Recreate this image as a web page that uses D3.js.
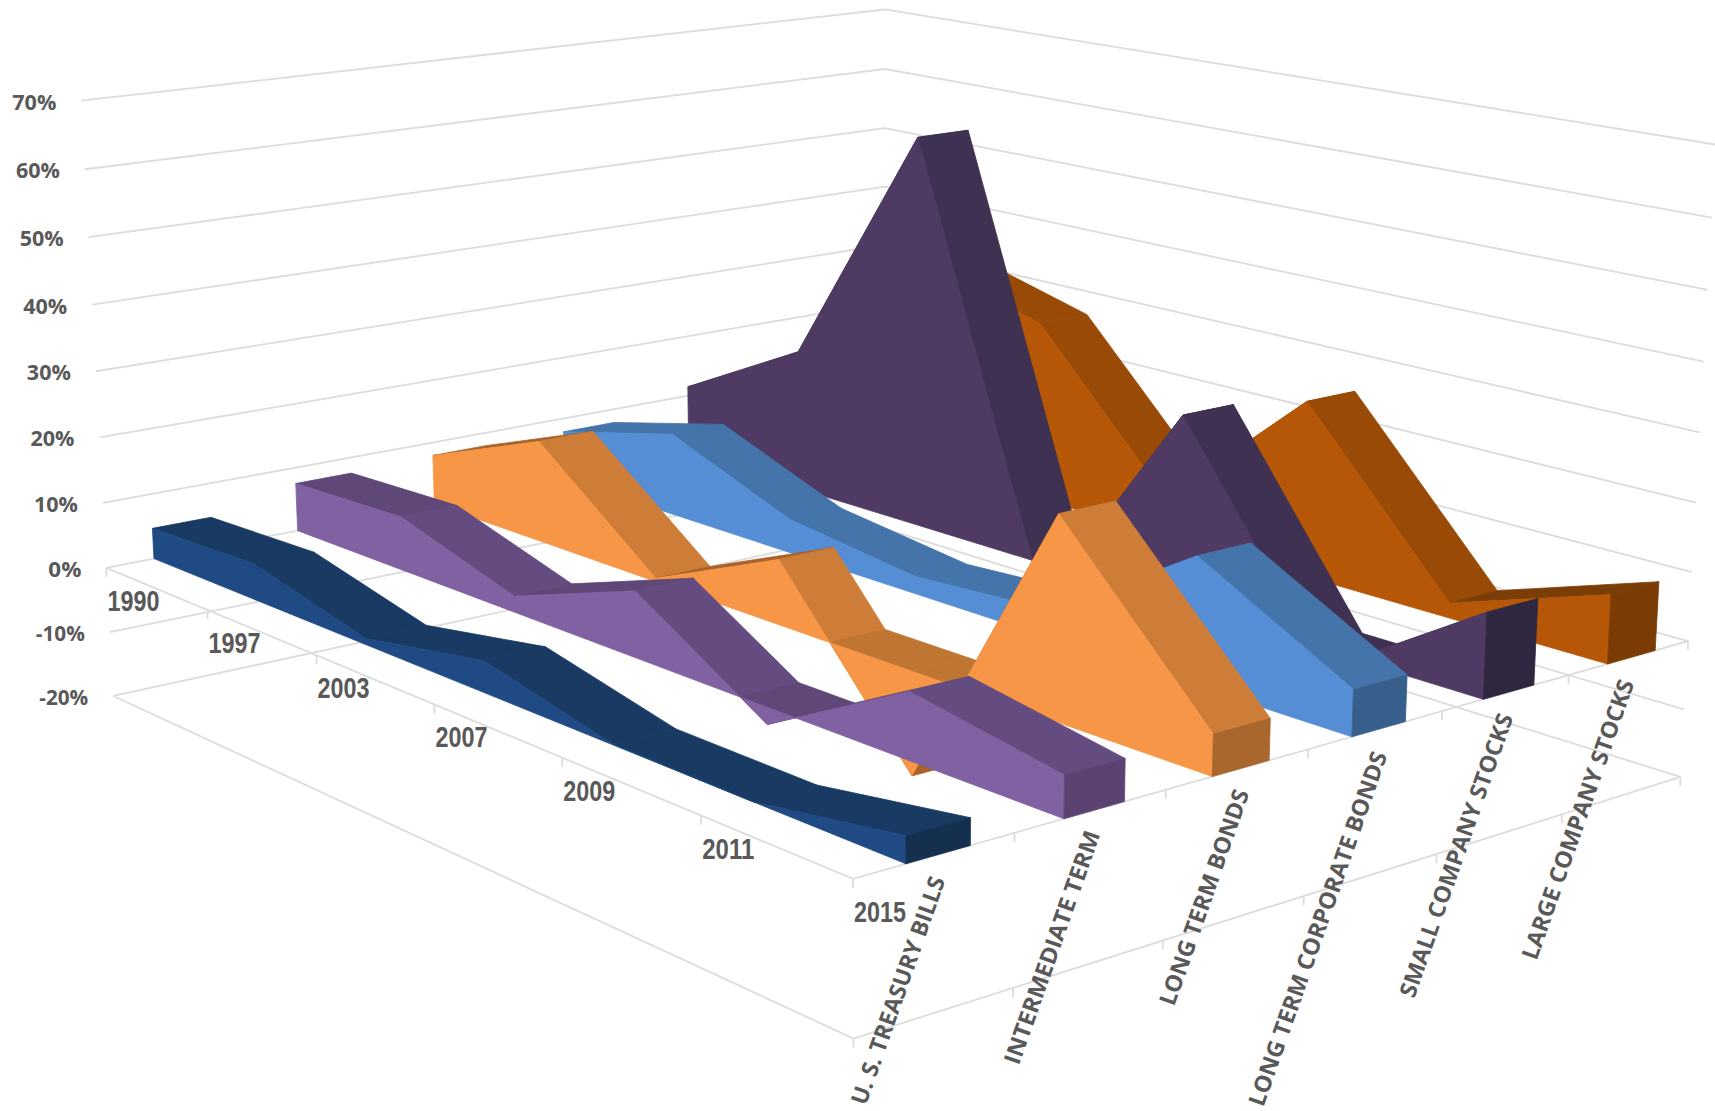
<!DOCTYPE html>
<html><head><meta charset="utf-8">
<script src="https://cdnjs.cloudflare.com/ajax/libs/d3/7.8.5/d3.min.js"></script>
<style>html,body{margin:0;padding:0;background:#fff;overflow:hidden}</style></head>
<body><svg id="c" width="1715" height="1111"></svg>
<script>
const years=["1990","1997","2003","2007","2009","2011","2015"];
const seriesNames=["U. S. TREASURY BILLS","INTERMEDIATE TERM","LONG TERM BONDS","LONG TERM CORPORATE BONDS","SMALL COMPANY STOCKS","LARGE COMPANY STOCKS"];
const treasuryBills=[4.7,5.4,0.9,4.5,0.1,0.0,3.5];
const intermediateTerm=[7.5,8.2,2.4,9.6,-2.4,9.2,5.6];
const longTermBonds=[7.9,15.7,0.5,9.6,-15,28.2,5.6];
const corporateBonds=[7.8,12.9,5.2,2.6,4,18.1,6.4];
const smallStocks=[11.5,22.4,60.5,-5.5,28.2,-2.7,12.1];
const largeStocks=[12,34,28.4,6,26.4,2.2,9.9];
const valueTicks=[-20,-10,0,10,20,30,40,50,60,70];
const allValues=[treasuryBills,intermediateTerm,longTermBonds,corporateBonds,smallStocks,largeStocks];
const palette=[
 {front:"#1f4a84",top:"#183a63",rise:"#183a63",plate:"#183a63",cap:"#15304f"},
 {front:"#8061a1",top:"#644c80",rise:"#5f4878",plate:"#5f4878",cap:"#5b4272"},
 {front:"#f79646",top:"#ce7d39",rise:"#a8622a",plate:"#bf7633",cap:"#a9662d"},
 {front:"#558ed5",top:"#4474aa",rise:"#4474aa",plate:"#4474aa",cap:"#375f8c"},
 {front:"#4e3a62",top:"#3f3151",rise:"#3f3151",plate:"#3f3151",cap:"#2f2640"},
 {front:"#b65708",top:"#994a06",rise:"#7a3d05",plate:"#994a06",cap:"#7a3c04"}];
const labelEnds=[[937,877,240],[1092,831,246],[1241,790,227],[1379,752,374],[1505,714,299],[1626,680,295]];

const tScale=d3.scalePoint().domain(years).range([0,1]);
const sScale=d3.scaleBand().domain(seriesNames).range([0,1]);
const zScale=d3.scaleLinear().domain([-20,70]).range([0,1]);

// camera calibration: [t,s,value,screenX,screenY]
const calib=[
[0,0,70,81,100.7],[0,0,60,85,168.6],[0,0,50,87.8,236.8],[0,0,40,93.3,304],[0,0,30,96.5,371.4],[0,0,20,99.8,437],[0,0,10,103,503],[0,0,0,105.9,567],[0,0,-10,109.7,632.5],[0,0,-20,113.5,696.4],
[0,1,70,885,10.7],[0,1,60,885,69.6],[0,1,50,885,127.9],[0,1,40,885,186.8],[0,1,-20,885,527],
[1,1,70,1715,144],[1,1,60,1710.7,216.8],[1,1,50,1708,290],[1,1,40,1704,361],[1,1,30,1701,432],[1,1,20,1697,502.5],[1,1,10,1694,572],[1,1,0,1686,641],[1,1,-10,1684,709],[1,1,-20,1680.6,776.8],
[1,0,-20,855,1036],[1,0,0,855,877],
[1/6,0,0,207,612.5],[2/6,0,0,315,653.6],[3/6,0,0,434,705],[4/6,0,0,562,759],[5/6,0,0,702,816],
[1,1/6,0,1014,834],[1,2/6,0,1165,791],[1,3/6,0,1307.5,750],[1,4/6,0,1441,712],[1,5/6,0,1567,677]];
function solve(A,b){const n=b.length;for(let i=0;i<n;i++){let p=i;for(let r=i+1;r<n;r++)if(Math.abs(A[r][i])>Math.abs(A[p][i]))p=r;
 [A[i],A[p]]=[A[p],A[i]];[b[i],b[p]]=[b[p],b[i]];
 for(let r=i+1;r<n;r++){const f=A[r][i]/A[i][i];for(let c=i;c<n;c++)A[r][c]-=f*A[i][c];b[r]-=f*b[i];}}
 const x=Array(n).fill(0);for(let i=n-1;i>=0;i--){let v=b[i];for(let c=i+1;c<n;c++)v-=A[i][c]*x[c];x[i]=v/A[i][i];}return x;}
const rows=[],rhs=[];
calib.forEach(([t,s,v,X,Y])=>{const z=zScale(v),x=X/1000,y=Y/1000;
 rows.push([t,s,z,1,0,0,0,0,-x*t,-x*s,-x*z]);rhs.push(x);
 rows.push([0,0,0,0,t,s,z,1,-y*t,-y*s,-y*z]);rhs.push(y);});
const ATA=d3.range(11).map(i=>d3.range(11).map(j=>d3.sum(rows,r=>r[i]*r[j])));
const ATb=d3.range(11).map(i=>d3.sum(rows,(r,k)=>r[i]*rhs[k]));
const m=solve(ATA,ATb);
function P(t,s,v){const z=zScale(v),w=m[8]*t+m[9]*s+m[10]*z+1;
 return [1000*(m[0]*t+m[1]*s+m[2]*z+m[3])/w,1000*(m[4]*t+m[5]*s+m[6]*z+m[7])/w];}

const svg=d3.select("#c");
const line=d3.line();
const grid=svg.append("g").attr("fill","none").attr("stroke","#dcdcdc").attr("stroke-width",1.8);
valueTicks.forEach(v=>grid.append("path").attr("d",line([P(0,0,v),P(0,1,v),P(1,1,v)])));
grid.append("path").attr("d",line([P(0,0,-20),P(1,0,-20),P(1,1,-20)]));
grid.append("path").attr("d",line([P(0,0,0),P(1,0,0),P(1,1,0)]));
years.forEach(y=>{const p=P(tScale(y),0,0);grid.append("path").attr("d",line([p,[p[0],p[1]+9]]));});
d3.range(7).forEach(i=>{[0,-20].forEach(v=>{const p=P(1,i/6,v);grid.append("path").attr("d",line([p,[p[0],p[1]+9]]));});});

// value labels
svg.append("g").selectAll("text").data(valueTicks).join("text")
 .attr("x",v=>P(0,0,v)[0]-25).attr("y",v=>P(0,0,v)[1]).attr("text-anchor","end").attr("dominant-baseline","central")
 .attr("font-family","'Open Sans'").attr("font-weight",700).attr("font-size",22).attr("fill","#595959")
 .attr("textLength",v=>(v<0?(v===-20?49:49):(v===0?33:44))).attr("lengthAdjust","spacingAndGlyphs").text(v=>v+"%");
// year labels
svg.append("g").selectAll("text").data(years).join("text")
 .attr("x",y=>P(tScale(y),0,0)[0]+1).attr("y",y=>P(tScale(y),0,0)[1]+33).attr("dominant-baseline","central")
 .attr("font-family","'Liberation Sans'").attr("font-weight",700).attr("font-size",29).attr("fill","#595959")
 .attr("textLength",52).attr("lengthAdjust","spacingAndGlyphs").text(y=>y);
// series labels
svg.append("g").selectAll("text").data(seriesNames).join("text")
 .attr("transform",(d,i)=>`translate(${labelEnds[i][0]},${labelEnds[i][1]}) rotate(-70.6)`)
 .attr("text-anchor","end").attr("dominant-baseline","central")
 .attr("font-family","'Open Sans'").attr("font-weight",700).attr("font-size",23).attr("fill","#595959")
 .attr("textLength",(d,i)=>labelEnds[i][2]).attr("lengthAdjust","spacingAndGlyphs").text(d=>d);

// areas, back series first
const bw=sScale.bandwidth();
const frontFrac=0.32,backFrac=0.72;
const marks=svg.append("g");
const poly=(pts,c)=>marks.append("path").attr("d",line(pts)+"Z").attr("fill",c).attr("stroke",c).attr("stroke-width",0.8).attr("stroke-linejoin","round");
d3.range(5,-1,-1).forEach(k=>{
 const vals=allValues[k],c=palette[k],name=seriesNames[k];
 const sF=sScale(name)+frontFrac*bw,sB=sScale(name)+backFrac*bw;
 const T=years.map(y=>tScale(y));
 // top surfaces
 for(let i=0;i<6;i++){
  poly([P(T[i],sF,vals[i]),P(T[i+1],sF,vals[i+1]),P(T[i+1],sB,vals[i+1]),P(T[i],sB,vals[i])],vals[i+1]>vals[i]?c.rise:c.top);
 }
 // base plate where the area dips under zero
 for(let i=0;i<6;i++){
  const a=vals[i],b=vals[i+1];
  if(a>=0&&b>=0)continue;
  const ta=a<0?T[i]:T[i]+(T[i+1]-T[i])*a/(a-b);
  const tb=b<0?T[i+1]:T[i]+(T[i+1]-T[i])*a/(a-b);
  poly([P(ta,sF,0),P(tb,sF,0),P(tb,sB,0),P(ta,sB,0)],c.plate);
 }
 // front face
 const top=T.map((t,i)=>P(t,sF,vals[i]));
 poly(top.concat([P(1,sF,0),P(0,sF,0)]),c.front);
 // end cap
 poly([P(1,sF,0),P(1,sF,vals[6]),P(1,sB,vals[6]),P(1,sB,0)],c.cap);
});
</script></body></html>
